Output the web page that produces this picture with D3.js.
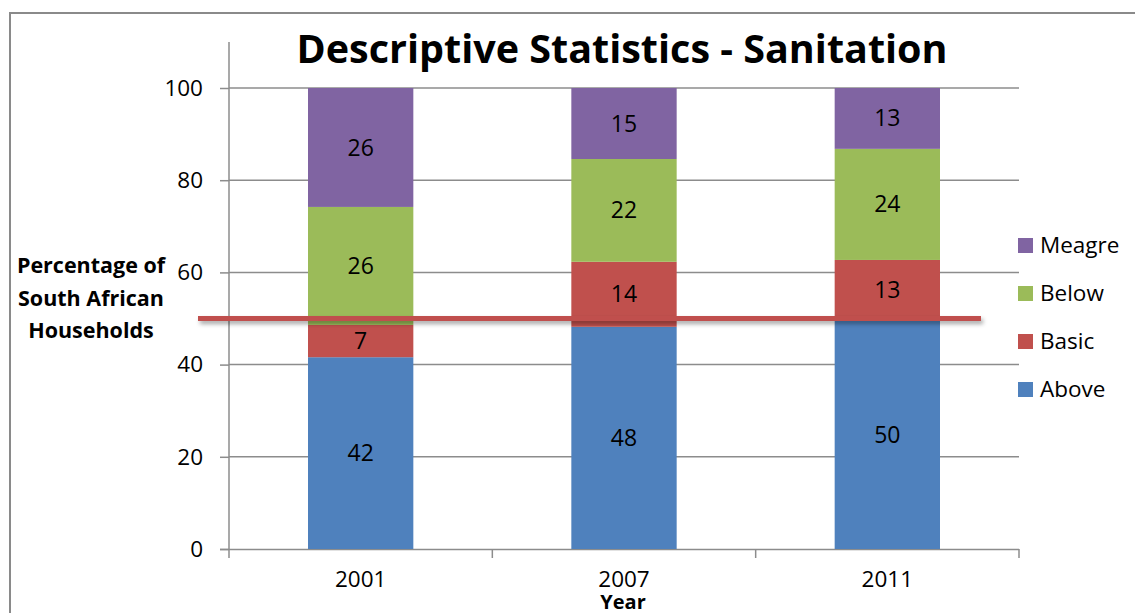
<!DOCTYPE html>
<html><head><meta charset="utf-8">
<script src="https://cdn.jsdelivr.net/npm/d3@7"></script>
<style>body{margin:0;background:#fff}svg{display:block}</style>
</head><body>
<svg id="c" width="1135" height="613"></svg>
<script>
const years = ["2001", "2007", "2011"];
const seriesNames = ["Above", "Basic", "Below", "Meagre"];
const above = [41.6, 48.2, 49.5];
const basic = [7.0, 14.1, 13.2];
const below = [25.6, 22.3, 24.1];
const meagre = [25.8, 15.4, 13.2];
const colors = ["#4F81BD", "#C0504D", "#9BBB59", "#8064A2"];
const yTicks = [0, 20, 40, 60, 80, 100];
const threshold = 50;

const font = "'Open Sans', 'Liberation Sans', sans-serif";
const svg = d3.select("#c");
const m = {l: 229, r: 1019, t: 88, b: 549};
const x = d3.scaleBand().domain(years).range([m.l, m.r]).paddingInner(0.6).paddingOuter(0.3);
const y = d3.scaleLinear().domain([0, 100]).range([m.b, m.t]);

// border
svg.append("rect").attr("x", 10).attr("y", 13).attr("width", 1140).attr("height", 620)
  .attr("fill", "none").attr("stroke", "#8a8a8a").attr("stroke-width", 2);

// gridlines
svg.append("g").selectAll("line").data(yTicks.filter(d => d > 0)).join("line")
  .attr("x1", m.l).attr("x2", m.r).attr("y1", d => y(d)).attr("y2", d => y(d))
  .attr("stroke", "#8c8c8c").attr("stroke-width", 1.5);

// y axis
const ya = svg.append("g").attr("transform", `translate(${m.l},0)`)
  .call(d3.axisLeft(y).tickValues(yTicks).tickSize(9).tickPadding(17));
ya.select(".domain").remove();
ya.selectAll("line").attr("stroke", "#8c8c8c").attr("stroke-width", 1.5);
ya.selectAll("text").attr("font-family", font).attr("font-size", 22.5).attr("fill", "#000");
svg.append("line").attr("x1", m.l).attr("x2", m.l).attr("y1", 42).attr("y2", m.b)
  .attr("stroke", "#8c8c8c").attr("stroke-width", 1.5);

// x axis
const xa = svg.append("g").attr("transform", `translate(0,${m.b})`)
  .call(d3.axisBottom(x).tickSize(0).tickPadding(22));
xa.select(".domain").attr("stroke", "#8c8c8c").attr("stroke-width", 1.5).attr("d", `M${m.l - 9},0.5H${m.r}`);
xa.selectAll("text").attr("font-family", font).attr("font-size", 22.5).attr("fill", "#000");
const bandEdges = d3.range(years.length + 1).map(i => m.l + (m.r - m.l) * i / years.length);
svg.append("g").selectAll("line").data(bandEdges).join("line")
  .attr("x1", d => d).attr("x2", d => d).attr("y1", m.b).attr("y2", m.b + 9)
  .attr("stroke", "#8c8c8c").attr("stroke-width", 1.5);

// stacked bars
const table = years.map((yr, i) => ({year: yr, Above: above[i], Basic: basic[i], Below: below[i], Meagre: meagre[i]}));
const stack = d3.stack().keys(seriesNames)(table);
const layers = svg.append("g").selectAll("g").data(stack).join("g").attr("fill", (d, i) => colors[i]);
layers.selectAll("rect").data(d => d).join("rect")
  .attr("x", d => x(d.data.year)).attr("width", x.bandwidth())
  .attr("y", d => y(d[1])).attr("height", d => y(d[0]) - y(d[1]));
layers.selectAll("text").data(d => d).join("text")
  .attr("x", d => x(d.data.year) + x.bandwidth() / 2)
  .attr("y", d => (y(d[0]) + y(d[1])) / 2)
  .attr("dy", "0.35em").attr("text-anchor", "middle")
  .attr("font-family", font).attr("font-size", 23).attr("fill", "#000")
  .text(d => Math.round(d[1] - d[0]));

// threshold line with shadow
const defs = svg.append("defs");
const f = defs.append("filter").attr("id", "sh").attr("filterUnits", "userSpaceOnUse")
  .attr("x", 180).attr("y", 300).attr("width", 830).attr("height", 40);
f.append("feDropShadow").attr("dx", 2).attr("dy", 3).attr("stdDeviation", 2).attr("flood-color", "#000").attr("flood-opacity", 0.35);
svg.append("line").attr("x1", 198).attr("x2", 981).attr("y1", y(threshold)).attr("y2", y(threshold))
  .attr("stroke", "#C0504D").attr("stroke-width", 5).attr("filter", "url(#sh)");

// title
svg.append("text").attr("x", 622).attr("y", 63).attr("text-anchor", "middle")
  .attr("font-family", font).attr("font-weight", "bold").attr("font-size", 39.5).attr("fill", "#000")
  .text("Descriptive Statistics - Sanitation");

// y axis title
const yl = svg.append("text").attr("text-anchor", "middle").attr("font-family", font)
  .attr("font-weight", "bold").attr("font-size", 21.5).attr("fill", "#000");
["Percentage of", "South African", "Households"].forEach((t, i) => {
  yl.append("tspan").attr("x", 91).attr("y", 273 + i * 32.5).text(t);
});

// x axis title
svg.append("text").attr("x", 623).attr("y", 609).attr("text-anchor", "middle")
  .attr("font-family", font).attr("font-weight", "bold").attr("font-size", 20).attr("fill", "#000").text("Year");

// legend
const legendOrder = [3, 2, 1, 0];
const lg = svg.append("g").selectAll("g").data(legendOrder).join("g")
  .attr("transform", (d, i) => `translate(1018,${245 + i * 48})`);
lg.append("rect").attr("x", 0).attr("y", -7).attr("width", 15).attr("height", 15).attr("fill", d => colors[d]);
lg.append("text").attr("x", 22).attr("dy", "0.35em").attr("font-family", font).attr("font-size", 22.5).attr("fill", "#000")
  .text(d => seriesNames[d]);
</script>
</body></html>
